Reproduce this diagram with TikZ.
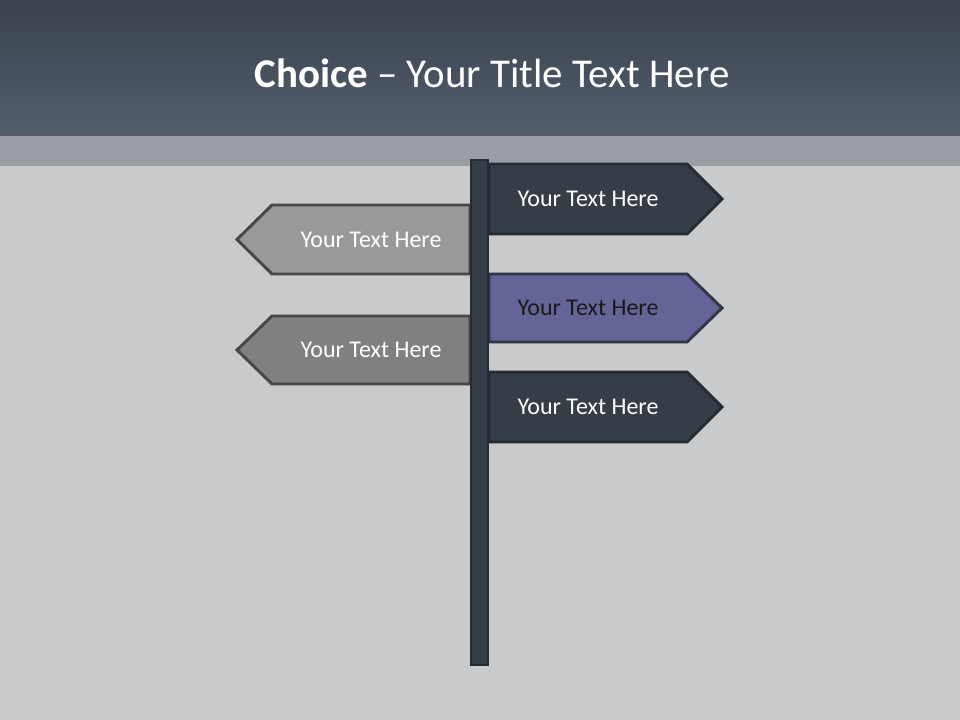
\documentclass[tikz,border=0pt]{standalone}
\usepackage{fontspec}
\setmainfont{Carlito}
\usepackage{tikz}
\usetikzlibrary{positioning}

\definecolor{bandtop}{HTML}{39424D}
\definecolor{bandbot}{HTML}{535F6C}
\definecolor{stripgrey}{HTML}{9B9EA4}
\definecolor{boardgrey}{HTML}{C9CACC}
\definecolor{postfill}{HTML}{343C47}
\definecolor{postline}{HTML}{252B33}
\definecolor{darksign}{HTML}{363D47}
\definecolor{purplesign}{HTML}{646497}
\definecolor{lightsign}{HTML}{999999}
\definecolor{midsign}{HTML}{808080}

\tikzset{
    signline/.style={line width=2.2pt, line join=miter},
    signtext/.style={font=\fontsize{18}{22}\selectfont, text=white, inner sep=0pt},
}

\begin{document}
\begin{tikzpicture}[x=0.75pt, y=-0.75pt]
    \useasboundingbox (0,0) rectangle (960,720);
    % background
    \fill[boardgrey] (0,0) rectangle (960,720);
    \fill[stripgrey] (0,136) rectangle (960,166);
    \shade[top color=bandtop, bottom color=bandbot] (0,0) rectangle (960,136);
    \node[font=\fontsize{30.7}{36}\selectfont, text=white, anchor=base] (title) at (492,88)
        {\textbf{Choice} -- Your Title Text Here};

    % left signs
    \draw[signline, fill=lightsign, draw=black!72] (470,205) -- (272,205) -- (237,239.5) -- (272,274) -- (470,274) -- cycle;
    \draw[signline, fill=midsign, draw=black!72] (470,316) -- (272,316) -- (237,350) -- (272,384) -- (470,384) -- cycle;

    % right signs
    \draw[signline, fill=darksign, draw=postline] (489,164) -- (687,164) -- (722,199) -- (687,234) -- (489,234) -- cycle;
    \draw[signline, fill=purplesign, draw=postline!80!purplesign] (489,274) -- (687,274) -- (722,308) -- (687,342) -- (489,342) -- cycle;
    \draw[signline, fill=darksign, draw=postline] (489,372) -- (687,372) -- (722,407) -- (687,442) -- (489,442) -- cycle;

    % post
    \draw[line width=2pt, fill=postfill, draw=postline] (471,160) rectangle (488,665);

    % texts
    \node[signtext] (left1) at (371,239.5) {Your Text Here};
    \node[signtext] (left2) at (371,350) {Your Text Here};
    \node[signtext] (right1) at (588,199) {Your Text Here};
    \node[signtext, text=black!90] (right2) at (588,308) {Your Text Here};
    \node[signtext] (right3) at (588,407) {Your Text Here};
\end{tikzpicture}
\end{document}
